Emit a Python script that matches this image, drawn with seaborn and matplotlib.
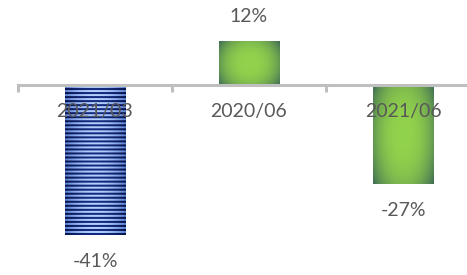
import numpy as np
import pandas as pd
import matplotlib
matplotlib.use('Agg')
import matplotlib.pyplot as plt
import seaborn as sns

# Datos del grafico
periodos = ['2021/03', '2020/06', '2021/06']
cambios = [-41, 12, -27]
etiquetas = ['-41%', '12%', '-27%']

sns.set_theme(style='white')
plt.rcParams['font.family'] = ['Lato', 'DejaVu Sans']

gris_texto = '#595959'
gris_eje = '#bfbfbf'

fig = plt.figure(figsize=(4.67, 2.75), dpi=100)
ax = fig.add_axes([18 / 467, 0, 462 / 467, 1])

df = pd.DataFrame({'periodo': periodos, 'cambio': cambios})
sns.barplot(data=df, x='periodo', y='cambio', ax=ax, width=0.39,
            color='#8fce4a', saturation=1, linewidth=0)

ax.set_xlim(-0.5, 2.5)
ax.set_ylim(-51.9, 23.2)
ax.set_axisbelow(False)


def mezcla(c1, c2, t):
    c1 = np.array(matplotlib.colors.to_rgb(c1))
    c2 = np.array(matplotlib.colors.to_rgb(c2))
    return c1 + (c2 - c1) * t[..., None]


# Relleno con degradado para cada barra
for i, p in enumerate(ax.patches[:len(cambios)]):
    x0, y0 = p.get_x(), p.get_y()
    w, h = p.get_width(), p.get_height()
    ny = max(int(abs(h) * 3.66), 2)
    nx = 60
    u = np.linspace(0, 1, nx)[None, :].repeat(ny, 0)
    v = np.linspace(0, 1, ny)[:, None].repeat(nx, 1)
    if i == 0:
        t = np.abs(2 * u - 1) ** 2
        claro = mezcla('#b4d0ff', '#5a80d0', t)
        oscuro = mezcla('#142a80', '#06134a', t)
        filas = (np.arange(ny) % 4 < 2)[:, None, None]
        img = np.where(filas, oscuro, claro)
    else:
        r = np.sqrt((2 * u - 1) ** 2 * 0.9 + (2 * v - 1) ** 2 * 0.5)
        t = np.clip(r / 1.2, 0, 1) ** 2.6
        img = mezcla('#92d34c', '#3d6a55', t)
    im = ax.imshow(img, extent=[x0, x0 + w, min(y0, y0 + h), max(y0, y0 + h)],
                   aspect='auto', zorder=1.5, interpolation='bilinear')
    im.set_clip_path(p)

# Etiquetas de valores
for i, (v, txt) in enumerate(zip(cambios, etiquetas)):
    desplaz = 18 if v > 0 else -19
    ax.annotate(txt, (i, v), xytext=(0, desplaz), textcoords='offset points',
                ha='center', va='center', fontsize=14, color=gris_texto)

# Eje
for lado in ['left', 'right', 'top']:
    ax.spines[lado].set_visible(False)
ax.spines['bottom'].set_position(('data', 0))
ax.spines['bottom'].set_color(gris_eje)
ax.spines['bottom'].set_linewidth(2.2)
ax.set_yticks([])
ax.set_xticks(range(3))
ax.set_xticklabels(periodos)
ax.set_xticks([-0.5, 0.5, 1.5, 2.5], minor=True)
ax.tick_params(axis='x', which='major', length=0, pad=13, labelsize=14,
               labelcolor=gris_texto)
ax.tick_params(axis='x', which='minor', length=5, width=2.2, color=gris_eje,
               bottom=True)
ax.set_xlabel('')
ax.set_ylabel('')

fig.savefig('out.png', dpi=100)
